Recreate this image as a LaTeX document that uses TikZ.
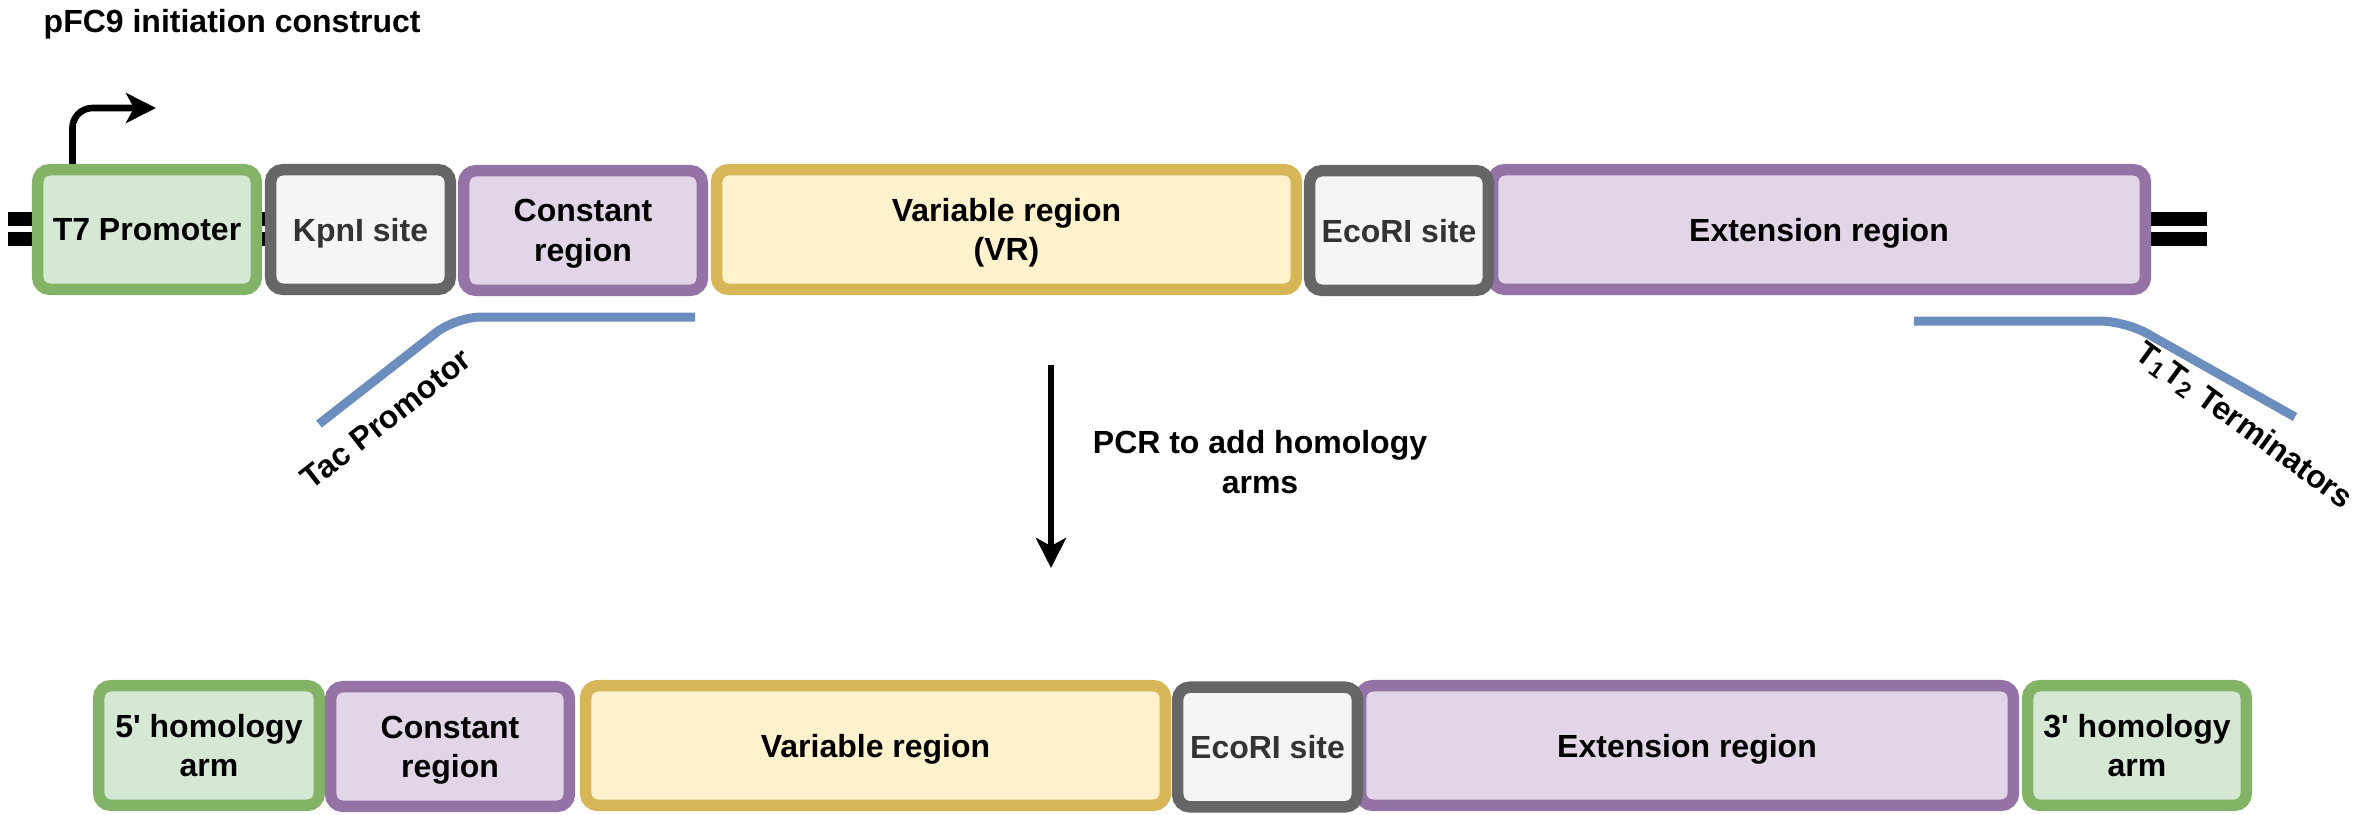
\documentclass[tikz,border=0pt]{standalone}
\usepackage{fontspec}
\setmainfont{Liberation Sans}
\definecolor{dgreen}{HTML}{82B366}
\definecolor{lgreen}{HTML}{D5E8D4}
\definecolor{dgray}{HTML}{666666}
\definecolor{lgray}{HTML}{F5F5F5}
\definecolor{tgray}{HTML}{333333}
\definecolor{dpurple}{HTML}{9673A6}
\definecolor{lpurple}{HTML}{E1D5E7}
\definecolor{dyellow}{HTML}{D6B656}
\definecolor{lyellow}{HTML}{FFF2CC}
\definecolor{dblue}{HTML}{6C8EBF}
\usetikzlibrary{arrows.meta,positioning}

\begin{document}
\begin{tikzpicture}[x=0.01cm, y=-0.01cm,
  lbl/.style={font=\fontsize{9.1}{11.2}\selectfont\bfseries, align=center, inner sep=0pt},
  partbox/.style={lbl, text depth=0pt, line width=0.115cm, rounded corners=0.12cm, minimum height=1.195cm},
  greenpart/.style={partbox, draw=dgreen, fill=lgreen},
  graypart/.style={partbox, draw=dgray, fill=lgray, text=tgray},
  purplepart/.style={partbox, draw=dpurple, fill=lpurple},
  yellowpart/.style={partbox, draw=dyellow, fill=lyellow},
  primer/.style={dblue, line width=0.09cm, rounded corners=0.25cm},
  dnaline/.style={line width=0.14cm}]

\useasboundingbox (0,0) rectangle (2376,814);

\node[lbl, anchor=base west] (title) at (43,32) {pFC9 initiation construct};

% DNA ends
\foreach \y in {219,239} {
  \draw[dnaline] (8,\y) -- (265,\y);
  \draw[dnaline] (2140,\y) -- (2207,\y);
}

% initiation construct
\node[greenpart, minimum width=2.185cm] (t7) at (147,229.5) {T7 Promoter};
\node[graypart, minimum width=1.795cm] (kpn) at (360.5,229.5) {KpnI site};
\node[purplepart, minimum width=2.385cm] (cr1) at (583,230.5) {Constant\\region};
\node[yellowpart, minimum width=5.795cm] (vr1) at (1006.5,229.5) {Variable region\\(VR)};
\node[purplepart, minimum width=6.525cm] (ext1) at (1819,229.5) {Extension region};
\node[graypart, minimum width=1.785cm] (eco1) at (1399,230.5) {EcoRI site};

\coordinate (tsstip) at (156,108);
\draw[-{Stealth[length=0.3cm, width=0.3cm, inset=0.08cm]}, line width=0.066cm, rounded corners=0.2cm]
  ([xshift=0.405cm]t7.north west) |- (tsstip);

% primers
\coordinate (tac0) at (319,424);
\coordinate (tac1) at (456,317);
\coordinate (tac2) at (695,317);
\draw[primer] (tac0) -- (tac1) -- (tac2);
\node[lbl, rotate=38] (taclbl) at (386,419) {Tac Promotor};

\coordinate (term0) at (1914,321);
\coordinate (term1) at (2125,321);
\coordinate (term2) at (2295,417);
\draw[primer] (term0) -- (term1) -- (term2);
\node[lbl, rotate=-36] (termlbl) at (2244,426) {T\textsubscript{1}T\textsubscript{2} Terminators};

% PCR step
\coordinate (pcrtop) at (1051,365);
\coordinate (pcrend) at (1051,568);
\draw[-{Stealth[length=0.3cm, width=0.3cm, inset=0.08cm]}, line width=0.06cm] (pcrtop) -- (pcrend);
\node[lbl] (pcrlbl) at (1260,462) {PCR to add homology\\arms};

% with homology arms
\node[greenpart, minimum width=2.205cm] (arm5) at (209,745.5) {5\textquotesingle{} homology\\arm};
\node[purplepart, minimum width=2.385cm] (cr2) at (450,746.5) {Constant\\region};
\node[yellowpart, minimum width=5.795cm] (vr2) at (875.5,745.5) {Variable region};
\node[purplepart, minimum width=6.525cm] (ext2) at (1687,745.5) {Extension region};
\node[graypart, minimum width=1.795cm] (eco2) at (1267.5,747) {EcoRI site};
\node[greenpart, minimum width=2.185cm] (arm3) at (2137,745.5) {3\textquotesingle{} homology\\arm};

\end{tikzpicture}
\end{document}
